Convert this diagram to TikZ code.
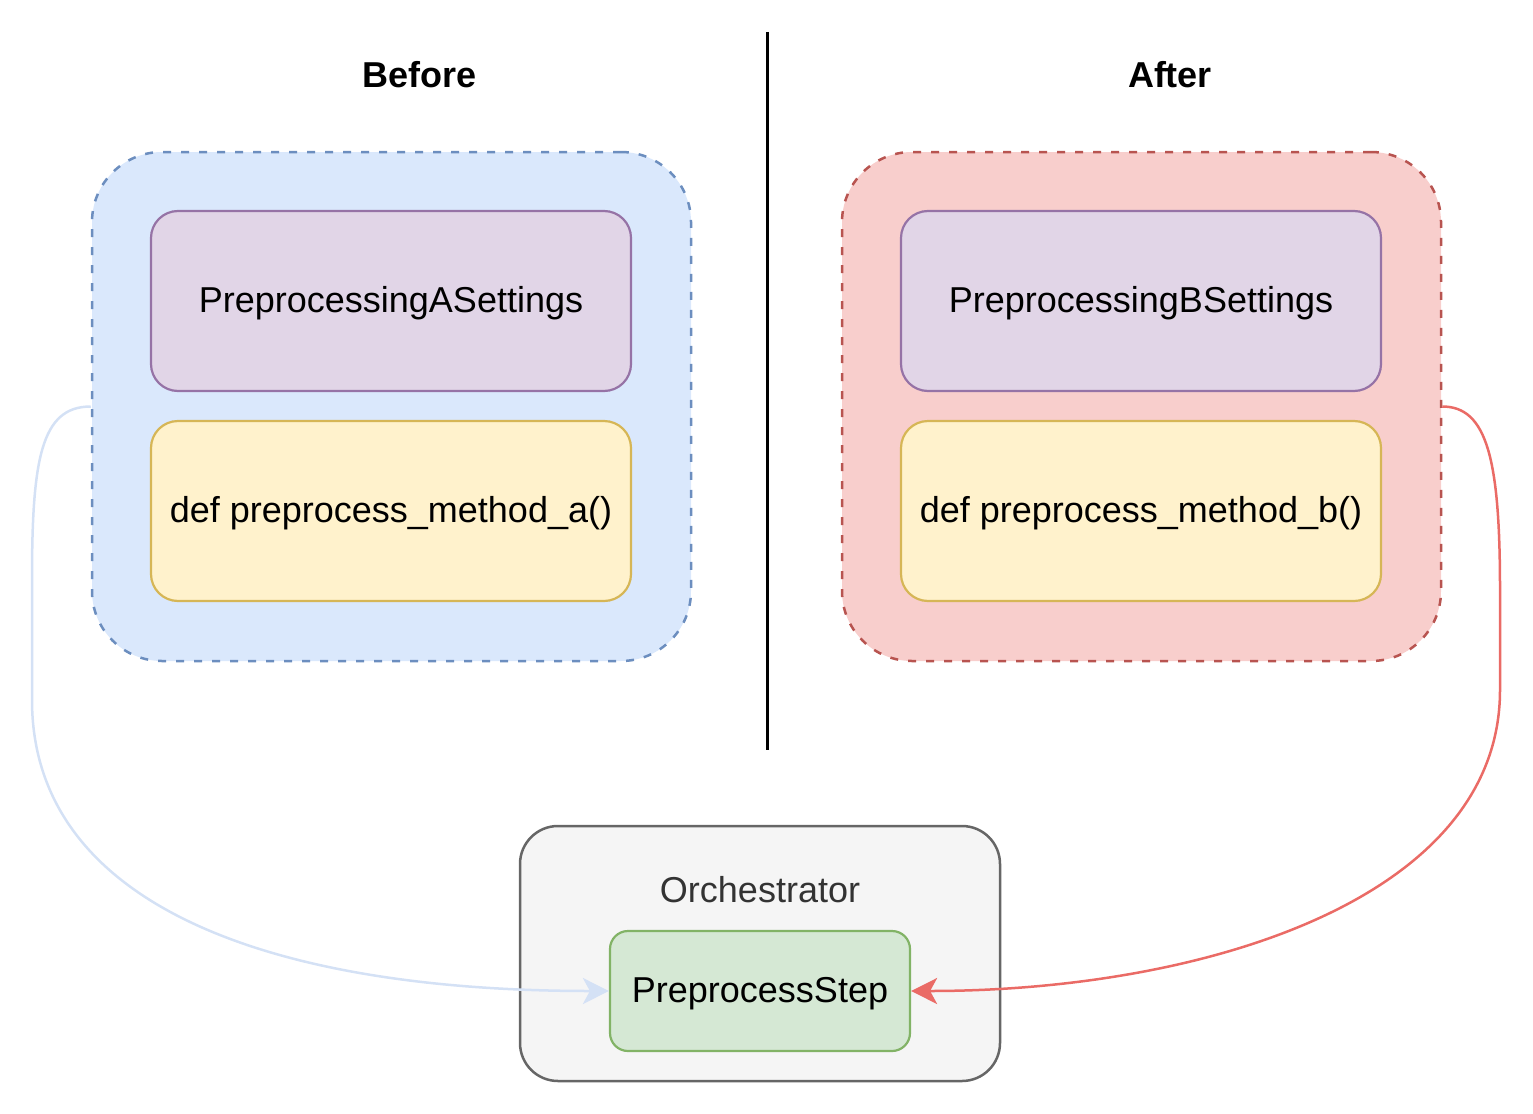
\documentclass[tikz,border=0pt]{standalone}
\usepackage{fontspec}
\setmainfont{Liberation Sans}
\usetikzlibrary{arrows.meta}
\definecolor{blueF}{HTML}{DAE8FC}
\definecolor{blueS}{HTML}{6C8EBF}
\definecolor{redF}{HTML}{F8CECC}
\definecolor{redS}{HTML}{B85450}
\definecolor{purF}{HTML}{E1D5E7}
\definecolor{purS}{HTML}{9673A6}
\definecolor{yelF}{HTML}{FFF2CC}
\definecolor{yelS}{HTML}{D6B656}
\definecolor{grayF}{HTML}{F5F5F5}
\definecolor{grayS}{HTML}{666666}
\definecolor{grayT}{HTML}{333333}
\definecolor{grnF}{HTML}{D5E8D4}
\definecolor{grnS}{HTML}{82B366}
\definecolor{blueE}{HTML}{D4E1F5}
\definecolor{redE}{HTML}{EA6B66}
\begin{document}
\begin{tikzpicture}[x=1pt,y=-1pt,
  every node/.style={font=\fontsize{36pt}{43pt}\selectfont, inner sep=0pt, text height=29pt, text depth=7pt},
  container/.style={draw, line width=2.5pt, dash pattern=on 8pt off 10pt, rounded corners=70pt, minimum width=599pt, minimum height=509pt},
  inbox/.style={draw, line width=2.2pt, rounded corners=27pt, minimum width=480pt, minimum height=180pt},
  title/.style={font=\fontsize{36pt}{43pt}\selectfont\bfseries},
  edge/.style={line width=2.5pt, -{Stealth[length=26pt,width=26pt,inset=7pt]}}
]
\useasboundingbox (0,0) rectangle (1533,1113);
\node[title] (before) at (420,77) {Before};
\node[title] (after) at (1170,77) {After};
\coordinate (divtop) at (767,32);
\coordinate (divbot) at (767,750);
\draw[line width=3pt] (divtop) -- (divbot);

\node[container, fill=blueF, draw=blueS] (contA) at (391.5,406.5) {};
\node[inbox, fill=purF, draw=purS] (setA) at (391,301) {PreprocessingASettings};
\node[inbox, fill=yelF, draw=yelS] (methA) at (391,511) {def preprocess\_method\_a()};

\node[container, fill=redF, draw=redS] (contB) at (1141.5,406.5) {};
\node[inbox, fill=purF, draw=purS] (setB) at (1141,301) {PreprocessingBSettings};
\node[inbox, fill=yelF, draw=yelS] (methB) at (1141,511) {def preprocess\_method\_b()};

\node[draw=grayS, fill=grayF, line width=2.5pt, rounded corners=38pt, minimum width=480pt, minimum height=255pt] (orch) at (760,953.5) {};
\node[text=grayT] (orchlbl) at (760,891) {Orchestrator};
\node[draw=grnS, fill=grnF, line width=2.2pt, rounded corners=18pt, minimum width=300pt, minimum height=120pt] (step) at (760,991) {PreprocessStep};

\coordinate (a1) at (32,580);
\coordinate (a2) at (32,700);
\coordinate (b1) at (1500,590);
\coordinate (b2) at (1500,690);
\draw[edge, draw=blueE] (contA.west) .. controls +(-50,0) and +(0,-120) .. (a1) -- (a2) .. controls +(0,200) and +(-350,0) .. (step.west);
\draw[edge, draw=redE] (contB.east) .. controls +(45,0) and +(0,-130) .. (b1) -- (b2) .. controls +(0,210) and +(290,0) .. (step.east);
\end{tikzpicture}
\end{document}
